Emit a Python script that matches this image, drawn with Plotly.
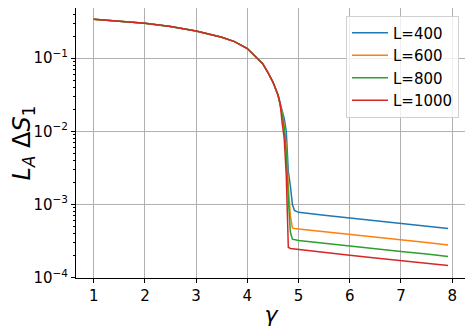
import plotly.graph_objects as go

gamma = [1.0, 1.5, 2.0, 2.5, 3.0, 3.5, 3.75, 4.0, 4.2, 4.3, 4.4, 4.5, 4.6, 4.64,
         4.68, 4.72, 4.76, 4.80, 4.84, 4.88, 4.92, 5.0, 5.5, 6.0, 6.5, 7.0, 7.5, 7.92]

common = [0.340, 0.322, 0.300, 0.270, 0.235, 0.192, 0.168, 0.135, 0.100, 0.084,
          0.064, 0.047, 0.031, 0.024]

L400 = common + [0.019, 0.015, 0.010, 0.0028, 0.0018, 0.0010, 8.3e-4, 7.8e-4,
                 7.14e-4, 6.56e-4, 6.01e-4, 5.51e-4, 5.06e-4, 4.70e-4]
L600 = common + [0.018, 0.012, 0.006, 0.0018, 7.0e-4, 4.8e-4, 4.7e-4, 4.62e-4,
                 4.26e-4, 3.90e-4, 3.58e-4, 3.29e-4, 3.02e-4, 2.80e-4]
L800 = common + [0.017, 0.011, 0.005, 0.0012, 4.2e-4, 3.35e-4, 3.3e-4, 3.22e-4,
                 2.96e-4, 2.70e-4, 2.48e-4, 2.28e-4, 2.10e-4, 1.95e-4]
L1000 = common + [0.013, 0.008, 0.0025, 2.6e-4, 2.5e-4, 2.48e-4, 2.46e-4, 2.42e-4,
                  2.22e-4, 2.03e-4, 1.86e-4, 1.71e-4, 1.57e-4, 1.46e-4]

series = [("L=400", L400, "#1f77b4"), ("L=600", L600, "#ff7f0e"),
          ("L=800", L800, "#2ca02c"), ("L=1000", L1000, "#d62728")]

ytickvals = [1e-4, 1e-3, 1e-2, 1e-1]
yticktext = ["10<sup>\u22124</sup>", "10<sup>\u22123</sup>", "10<sup>\u22122</sup>", "10<sup>\u22121</sup>"]
xtickvals = [1, 2, 3, 4, 5, 6, 7, 8]

fig = go.Figure()
for name, vals, col in series:
    fig.add_trace(go.Scatter(x=gamma, y=vals, mode="lines", name=name,
                             line=dict(color=col, width=1.5)))

font = "DejaVu Sans"
# the page body has an 8px margin, so the figure is sized to fit the window
fig.update_layout(
    width=465, height=323,
    margin=dict(l=68, r=7, t=0, b=53),
    paper_bgcolor="white", plot_bgcolor="white",
    font=dict(family=font, size=15, color="black"),
    showlegend=True,
    legend=dict(x=0.982, y=0.972, xanchor="right", yanchor="top",
                bgcolor="rgba(255,255,255,0.8)", bordercolor="#d0d0d0", borderwidth=1,
                font=dict(size=15, family=font), tracegroupgap=0, itemwidth=36),
)
fig.update_xaxes(
    range=[0.654, 8.27], tickvals=xtickvals, ticks="outside", ticklen=4,
    tickcolor="black", showline=True, linecolor="black", linewidth=1, mirror=True,
    showgrid=True, gridcolor="#b0b0b0", gridwidth=1, zeroline=False,
    tickfont=dict(size=15, family=font),
    title=dict(text="<i>\u03b3</i>", font=dict(size=22, family=font), standoff=2),
)
fig.update_yaxes(
    type="log", range=[-4.005, -0.316], tickvals=ytickvals, ticktext=yticktext,
    ticks="outside", ticklen=4, tickcolor="black", showline=True, linecolor="black",
    linewidth=1, mirror=True, showgrid=True, gridcolor="#b0b0b0", gridwidth=1,
    zeroline=False, tickfont=dict(size=15, family=font),
    minor=dict(ticks="outside", ticklen=2, tickcolor="black", showgrid=False,
               tickvals=[m * 10 ** e for e in (-4, -3, -2, -1) for m in range(2, 10)]),
    title=dict(text="<i>L</i><sub><i>A</i></sub> \u0394<i>S</i><sub>1</sub>",
               font=dict(size=24, family=font), standoff=6),
)

fig.write_html("out.html")
